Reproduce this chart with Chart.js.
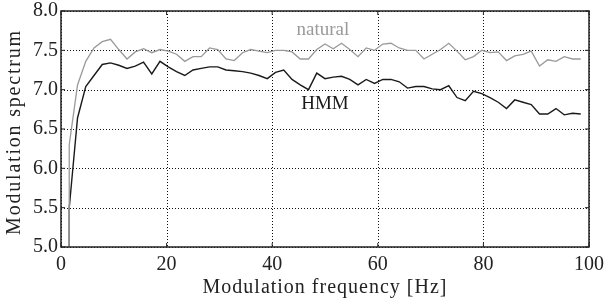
<!DOCTYPE html>
<html>
<head>
<meta charset="utf-8">
<script src="https://cdn.jsdelivr.net/npm/chart.js@4"></script>
<style>
  html, body { margin: 0; padding: 0; background: #fff; }
  #wrap { width: 607px; height: 301px; }
</style>
</head>
<body>
<div id="wrap"><canvas id="myChart" width="607" height="301"></canvas></div>
<script>
// modulation frequency [Hz]; first sample repeated to draw the drop below the axis
const freq = [1.56, 1.56, 3.13, 4.69, 6.25, 7.81, 9.38, 10.94, 12.5, 14.06, 15.63, 17.19, 18.75,
  20.31, 21.88, 23.44, 25, 26.56, 28.13, 29.69, 31.25, 32.81, 34.38, 35.94, 37.5, 39.06,
  40.63, 42.19, 43.75, 45.31, 46.88, 48.44, 50, 51.56, 53.13, 54.69, 56.25, 57.81, 59.38,
  60.94, 62.5, 64.06, 65.63, 67.19, 68.75, 70.31, 71.88, 73.44, 75, 76.56, 78.13, 79.69,
  81.25, 82.81, 84.38, 85.94, 87.5, 89.06, 90.63, 92.19, 93.75, 95.31, 96.88, 98.44];

const natural = [4.0, 6.3, 7.06, 7.36, 7.53, 7.61, 7.64, 7.51, 7.39, 7.48, 7.52, 7.47, 7.51,
  7.49, 7.45, 7.36, 7.42, 7.42, 7.53, 7.51, 7.39, 7.37, 7.47, 7.51, 7.49, 7.47,
  7.50, 7.50, 7.48, 7.39, 7.39, 7.51, 7.58, 7.52, 7.59, 7.51, 7.42, 7.53, 7.50,
  7.58, 7.59, 7.53, 7.50, 7.50, 7.39, 7.45, 7.51, 7.59, 7.49, 7.38, 7.42, 7.50,
  7.47, 7.48, 7.37, 7.43, 7.45, 7.49, 7.30, 7.38, 7.36, 7.42, 7.39, 7.39];

const hmm = [4.0, 5.5, 6.64, 7.04, 7.18, 7.32, 7.34, 7.31, 7.27, 7.30, 7.35, 7.20, 7.36,
  7.29, 7.23, 7.18, 7.25, 7.27, 7.29, 7.29, 7.25, 7.24, 7.23, 7.21, 7.18, 7.14,
  7.22, 7.25, 7.13, 7.06, 7.00, 7.21, 7.14, 7.16, 7.17, 7.13, 7.06, 7.13, 7.08,
  7.13, 7.13, 7.10, 7.02, 7.04, 7.04, 7.01, 7.00, 7.05, 6.90, 6.86, 6.98, 6.95,
  6.90, 6.84, 6.76, 6.87, 6.84, 6.81, 6.69, 6.69, 6.76, 6.68, 6.70, 6.69];

const xTicks = [0, 20, 40, 60, 80, 100];
const yTicks = [5.0, 5.5, 6.0, 6.5, 7.0, 7.5, 8.0];

// in-plot labels: [text, x, y, colour]
const curveLabels = [
  ['natural', 49.6, 7.70, '#9a9a9a'],
  ['HMM', 50, 6.75, '#1a1a1a']
];

const serif = '"Liberation Serif", "Times New Roman", serif';
const ink = '#222';

// dotted grid under the curves
const dottedGrid = {
  id: 'dottedGrid',
  beforeDatasetsDraw(chart) {
    const { ctx, chartArea: a, scales: { x, y } } = chart;
    ctx.save();
    ctx.strokeStyle = '#111';
    ctx.lineWidth = 1;
    ctx.setLineDash([1, 2]);
    ctx.beginPath();
    xTicks.forEach(v => {
      const px = Math.round(x.getPixelForValue(v)) + 0.5;
      ctx.moveTo(px, a.top); ctx.lineTo(px, a.bottom);
    });
    yTicks.forEach(v => {
      const py = Math.round(y.getPixelForValue(v)) + 0.5;
      ctx.moveTo(a.left, py); ctx.lineTo(a.right, py);
    });
    ctx.stroke();
    ctx.restore();
  }
};

const extras = {
  id: 'extras',
  afterDatasetsDraw(chart) {
    const { ctx, chartArea: a, scales: { x, y } } = chart;
    ctx.save();
    // box round the plot, with inward ticks
    ctx.strokeStyle = '#222';
    ctx.lineWidth = 1.5;
    ctx.strokeRect(a.left, a.top, a.right - a.left, a.bottom - a.top);
    ctx.lineWidth = 1;
    ctx.beginPath();
    xTicks.forEach(v => {
      const px = x.getPixelForValue(v);
      ctx.moveTo(px, a.bottom); ctx.lineTo(px, a.bottom - 4);
      ctx.moveTo(px, a.top); ctx.lineTo(px, a.top + 4);
    });
    yTicks.forEach(v => {
      const py = y.getPixelForValue(v);
      ctx.moveTo(a.left, py); ctx.lineTo(a.left + 4, py);
      ctx.moveTo(a.right, py); ctx.lineTo(a.right - 4, py);
    });
    ctx.stroke();
    // curve labels
    ctx.font = '19px ' + serif;
    ctx.textAlign = 'center';
    ctx.textBaseline = 'alphabetic';
    curveLabels.forEach(([t, fx, fy, c]) => {
      ctx.fillStyle = c;
      ctx.fillText(t, x.getPixelForValue(fx), y.getPixelForValue(fy));
    });
    // axis titles
    ctx.fillStyle = ink;
    ctx.font = '20px ' + serif;
    ctx.letterSpacing = '1px';
    ctx.textBaseline = 'middle';
    ctx.fillText('Modulation frequency [Hz]', (a.left + a.right) / 2, 288);
    ctx.letterSpacing = '1.8px';
    ctx.translate(15, (a.top + a.bottom) / 2 + 3);
    ctx.rotate(-Math.PI / 2);
    ctx.fillText('Modulation spectrum', 0, 0);
    ctx.restore();
  }
};

const ctx = document.getElementById('myChart').getContext('2d');

new Chart(ctx, {
  type: 'scatter',
  data: {
    datasets: [{
      label: 'natural',
      data: freq.map((f, i) => ({ x: f, y: natural[i] })),
      borderColor: '#9a9a9a',
      borderWidth: 1.3,
      showLine: true,
      pointRadius: 0
    }, {
      label: 'HMM',
      data: freq.map((f, i) => ({ x: f, y: hmm[i] })),
      borderColor: '#1a1a1a',
      borderWidth: 1.4,
      showLine: true,
      pointRadius: 0
    }]
  },
  options: {
    responsive: false,
    animation: false,
    layout: { padding: { top: 11, right: 18, left: 0, bottom: 0 } },
    plugins: { legend: { display: false }, tooltip: { enabled: false } },
    scales: {
      x: {
        type: 'linear',
        min: 0, max: 100,
        afterBuildTicks: s => { s.ticks = xTicks.map(v => ({ value: v })); },
        afterFit: s => { s.height = 54; },
        grid: { display: false },
        border: { display: false },
        ticks: { color: ink, font: { family: serif, size: 20 }, padding: -2, maxRotation: 0 }
      },
      y: {
        min: 5, max: 8,
        afterBuildTicks: s => { s.ticks = yTicks.map(v => ({ value: v })); },
        afterFit: s => { s.width = 61; },
        grid: { display: false },
        border: { display: false },
        ticks: { color: ink, font: { family: serif, size: 20 }, padding: -5,
          callback: v => v.toFixed(1) }
      }
    }
  },
  plugins: [dottedGrid, extras]
});
</script>
</body>
</html>
